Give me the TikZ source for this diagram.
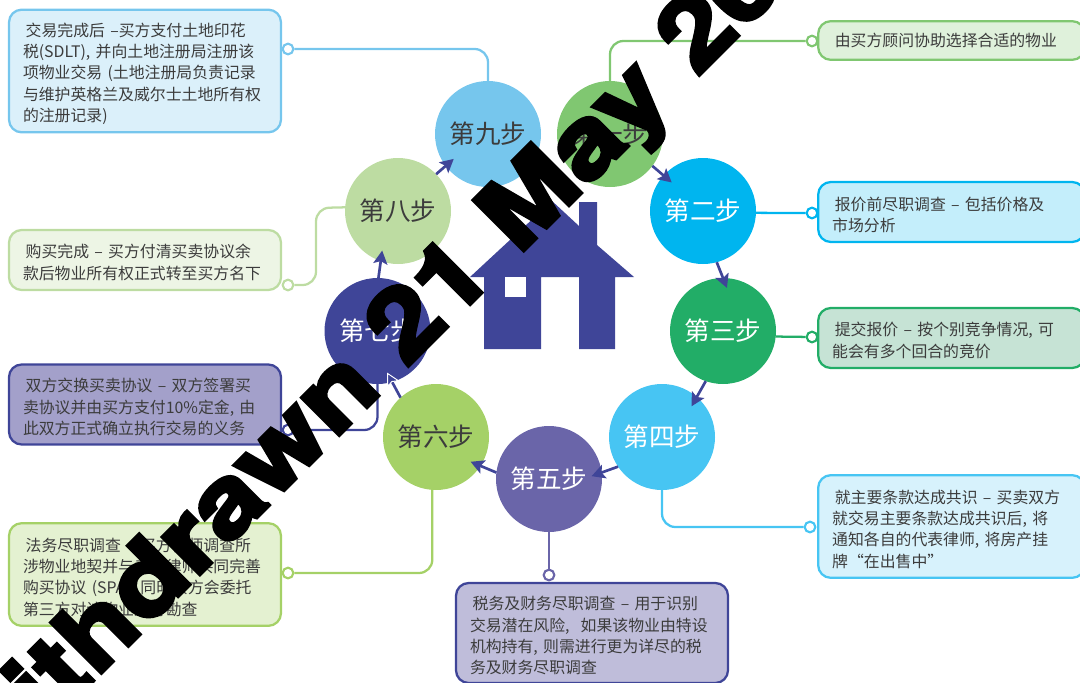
\documentclass[tikz,border=0pt]{standalone}
\usepackage{fontspec}
\setmainfont{Noto Sans CJK SC}
\newfontfamily\stampfont{TeX Gyre Heros}[BoldFeatures={FakeBold=4,FakeStretch=1.175}]
\usetikzlibrary{arrows.meta}
\definecolor{stepone}{HTML}{80C771}
\definecolor{steptwo}{HTML}{00B5EF}
\definecolor{stepthree}{HTML}{22AD67}
\definecolor{stepfour}{HTML}{47C5F3}
\definecolor{stepfive}{HTML}{6A65A9}
\definecolor{stepsix}{HTML}{A5D167}
\definecolor{stepseven}{HTML}{3F4598}
\definecolor{stepeight}{HTML}{BDDCA2}
\definecolor{stepnine}{HTML}{76C6ED}
\definecolor{bodytext}{HTML}{3C3C3C}
\newcommand{\firstline}{\rule{0pt}{14pt}\hspace*{2pt}}

\begin{document}
\begin{tikzpicture}[
        x=0.75pt,y=-0.75pt,
        >={Stealth[length=10pt,width=10.5pt,inset=2pt,stepseven]},
        stepnode/.style={circle,fill=#1,minimum size=79.5pt,inner sep=0pt,outer sep=0pt,
            font=\fontsize{19.2}{20}\selectfont},
        infobox/.style n args={3}{rectangle,rounded corners=9.5pt,draw=#1,fill=#2,line width=1.7pt,
            minimum width=#3,align=left,inner xsep=10.5pt,inner ysep=0pt,text=bodytext,
            font=\fontsize{11.9}{16}\selectfont},
        ring/.style={circle,draw=#1,fill=white,line width=1.6pt,minimum size=8pt,inner sep=0pt},
        tieline/.style={draw=#1,line width=1.7pt,rounded corners=10pt},
        every edge/.style={draw=stepseven,line width=2pt,shorten >=-8pt},
    ]
    \useasboundingbox (0,0) rectangle (1080,682);
    \clip (0,0) rectangle (1080,682);

    % house
    \fill[stepseven] (470,277) -- (552,201) -- (579,226) -- (579,202) -- (597,202) -- (597,245)
        -- (634,277) -- (615,277) -- (615,349) -- (579,349) -- (579,277) -- (541,277)
        -- (541,349) -- (484,349) -- (484,277) -- cycle;
    \fill[white] (505,277) rectangle (526,297);

    % steps
    \node[stepnode=stepone,text=bodytext] (s1) at (610,134) {第一步};
    \node[stepnode=steptwo,text=white] (s2) at (703,211) {第二步};
    \node[stepnode=stepthree,text=white] (s3) at (723,331) {第三步};
    \node[stepnode=stepfour,text=white] (s4) at (662,437) {第四步};
    \node[stepnode=stepfive,text=white] (s5) at (549,479) {第五步};
    \node[stepnode=stepsix,text=bodytext] (s6) at (436,437) {第六步};
    \node[stepnode=stepseven,text=white] (s7) at (377.5,331) {第七步};
    \node[stepnode=stepeight,text=bodytext] (s8) at (398,211) {第八步};
    \node[stepnode=stepnine,text=bodytext] (s9) at (488,134) {第九步};

    % boxes
    \node[infobox={stepone}{stepone!25!white}{200pt},minimum height=29pt,text width=179pt] (b1) at (951.5,40.5)
        {\hspace*{2pt}由买方顾问协助选择合适的物业};
    \node[infobox={steptwo}{steptwo!23!white}{200pt},minimum height=45pt,text width=179pt] (b2) at (951.5,212)
        {\firstline 报价前尽职调查 – 包括价格及\\市场分析};
    \node[infobox={stepthree}{stepthree!22!white!96!black}{200pt},minimum height=45pt,text width=179pt] (b3) at (951.5,338)
        {\firstline 提交报价 – 按个别竞争情况, 可\\能会有多个回合的竞价};
    \node[infobox={stepfour}{stepfour!22!white}{200pt},minimum height=77pt,text width=179pt] (b4) at (951.5,526.5)
        {\firstline 就主要条款达成共识 – 买卖双方\\就交易主要条款达成共识后, 将\\通知各自的代表律师, 将房产挂\\牌“在出售中”};
    \node[infobox={stepseven}{stepfive!43!white}{204pt},minimum height=75pt,text width=183pt] (b5) at (592,633)
        {\firstline 税务及财务尽职调查 – 用于识别\\交易潜在风险,\hspace{.7em}如果该物业由特设\\机构持有, 则需进行更为详尽的税\\务及财务尽职调查};
    \node[infobox={stepsix}{stepsix!30!white}{204pt},minimum height=77pt,text width=183pt] (b6) at (145,574.5)
        {\firstline 法务尽职调查 – 买方律师调查所\\涉物业地契并与卖方律师共同完善\\购买协议 (SPA), 同时买方会委托\\第三方对该物业进行勘查};
    \node[infobox={stepseven}{stepfive!62!white}{204pt},minimum height=60pt,text width=183pt] (b7) at (145,404.5)
        {\firstline 双方交换买卖协议 – 双方签署买\\卖协议并由买方支付10\%定金, 由\\此双方正式确立执行交易的义务};
    \node[infobox={stepeight}{stepeight!28!white}{204pt},minimum height=45pt,text width=183pt] (b8) at (145,260)
        {\firstline 购买完成 – 买方付清买卖协议余\\款后物业所有权正式转至买方名下};
    \node[infobox={stepnine}{stepnine!26!white}{204pt},minimum height=92pt,text width=183pt] (b9) at (145,71)
        {\firstline 交易完成后 –买方支付土地印花\\税(SDLT), 并向土地注册局注册该\\项物业交易 (土地注册局负责记录\\与维护英格兰及威尔士土地所有权\\的注册记录)};

    % rings on the boxes
    \coordinate (j8) at (316,208);
    \node[ring=stepone] (r1) at (812,41) {};
    \node[ring=steptwo] (r2) at (812,213) {};
    \node[ring=stepthree] (r3) at (812,337) {};
    \node[ring=stepfour] (r4) at (810,527) {};
    \node[ring=stepfive] (r5) at (549,575) {};
    \node[ring=stepsix] (r6) at (288,573) {};
    \node[ring=stepseven] (r7) at (288,430) {};
    \node[ring=stepeight] (r8) at (288,285) {};
    \node[ring=stepnine] (r9) at (288,49) {};

    % ties from step to ring
    \draw[tieline=stepone] (s1.north) |- (r1);
    \draw[tieline=steptwo] (s2.358) -- (r2);
    \draw[tieline=stepthree] (s3.354) -- (r3);
    \draw[tieline=stepfour] (s4.south) |- (r4);
    \draw[tieline=stepfive] (s5.south) -- (r5);
    \draw[tieline=stepsix] (s6.266) |- (r6);
    \draw[tieline=stepseven] (s7.south) |- (r7);
    \draw[tieline=stepeight] (s8.176) -- (j8) |- (r8);
    \draw[tieline=stepnine] (s9.north) |- (r9);

    % arrows round the ring of steps
    \path (s1.323) edge [->] (s2.138);
    \path (s2.285) edge [->] (s3.90);
    \path (s3.251) edge [->] (s4.49);
    \path (s4.214) edge [->] (s5.7);
    \path (s5.173) edge [->] (s6.327);
    \path (s6.132) edge [-{Stealth[length=10pt,width=10.5pt,inset=2pt,color=white,fill=stepseven,line width=.7pt]}] (s7.286);
    \path (s7.89) edge [->] (s8.251);
    \path (s8.44) edge [->] (s9.217);

    % stamp over everything
    \node[anchor=base west,rotate=45,inner sep=0pt,text=black,font=\stampfont\bfseries\fontsize{73}{78}\selectfont] (stamp) at (-30,804) {Withdrawn 21 May 20};
\end{tikzpicture}
\end{document}
